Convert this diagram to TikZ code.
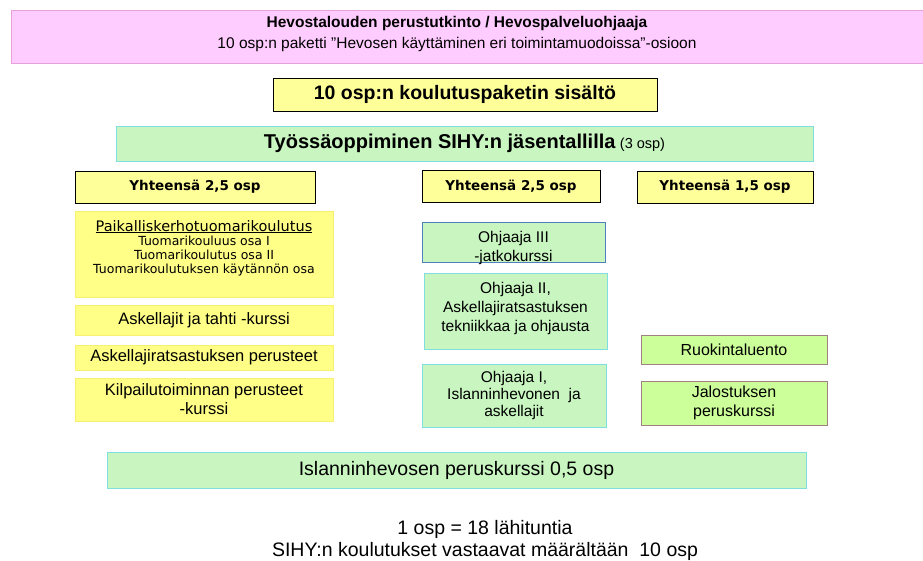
\documentclass[tikz,border=0pt]{standalone}
\usepackage{fontspec}
\setmainfont{Liberation Sans}
\newfontfamily\verd{DejaVu Sans}
\usetikzlibrary{positioning}

\definecolor{pinkfill}{HTML}{FFCCFF}
\definecolor{pinkline}{HTML}{E6A0DC}
\definecolor{yelfill}{HTML}{FFFF99}
\definecolor{paleyel}{HTML}{FFFF88}
\definecolor{paleline}{HTML}{F8F070}
\definecolor{grnfill}{HTML}{C8F5C0}
\definecolor{cyanline}{HTML}{80DDE0}
\definecolor{limefill}{HTML}{CCFF99}
\definecolor{brownline}{HTML}{A08080}
\definecolor{blueline}{HTML}{4F7FBF}

\begin{document}
\begin{tikzpicture}[x=1pt,y=-1pt,inner sep=0pt,
                    semithick]
  \tikzstyle{every node}=[align=center,text=black]
  \tikzstyle{pinkbox}=[draw=pinkline,fill=pinkfill]
  \tikzstyle{headbox}=[draw=black,fill=yelfill]
  \tikzstyle{paleybox}=[draw=paleline,fill=paleyel,font=\fontsize{16.5}{19}\selectfont]
  \tikzstyle{grnbox}=[draw=cyanline,fill=grnfill,font=\fontsize{15.5}{19}\selectfont]
  \tikzstyle{limebox}=[draw=brownline,fill=limefill,font=\fontsize{16}{19}\selectfont]
  \tikzstyle{sumbox}=[headbox,minimum height=32,font=\verd\bfseries\fontsize{13.5}{15}\selectfont]

  \useasboundingbox (0,0) rectangle (923,560);

  % otsikko
  \node[pinkbox,minimum width=922,minimum height=53] (head) at (472,36.5) {};
  \node[font=\fontsize{15.5}{21}\selectfont] (headtxt) at (457,33.5)
       {\textbf{Hevostalouden perustutkinto / Hevospalveluohjaaja}\\
        10 osp:n paketti "Hevosen käyttäminen eri toimintamuodoissa"-osioon};

  \node[headbox,minimum width=384,minimum height=33,font=\bfseries\fontsize{19.5}{21}\selectfont]
       (sisalto) at (465,94.5) {10 osp:n koulutuspaketin sisältö};
  \node[grnbox,minimum width=697,minimum height=35]
       (tyossa) at (464.5,143.5) {\textbf{\fontsize{20}{22}\selectfont Työssäoppiminen SIHY:n jäsentallilla} {\fontsize{14.5}{16}\selectfont(3 osp)}};

  % sarakkeiden otsikot
  \node[sumbox,minimum width=240] (yht1) at (195,187) {Yhteensä 2,5 osp};
  \node[sumbox,minimum width=178] (yht2) at (511,186.5) {Yhteensä 2,5 osp};
  \node[sumbox,minimum width=176] (yht3) at (725,187) {Yhteensä 1,5 osp};

  % vasen sarake
  \node[paleybox,minimum width=258,minimum height=86] (tuom) at (204,254) {};
  \node[below=9pt of tuom.north,font=\verd\fontsize{12.5}{14}\selectfont] (tuomtxt)
       {{\fontsize{14.5}{16}\selectfont\underline{Paikalliskerhotuomarikoulutus}}\\[0pt]
        Tuomarikouluus osa I\\ Tuomarikoulutus osa II\\ Tuomarikoulutuksen käytännön osa};
  \node[paleybox,minimum width=258,minimum height=30] (askel) at (204,320) {Askellajit ja tahti -kurssi};
  \node[paleybox,minimum width=258,minimum height=25] (perus) at (204,357.5) {Askellajiratsastuksen perusteet};
  \node[paleybox,minimum width=258,minimum height=43] (kilpa) at (204,399.5) {Kilpailutoiminnan perusteet\\ -kurssi};

  % keskisarake
  \node[grnbox,draw=blueline,minimum width=183,minimum height=40] (ohj3) at (513.5,242) {};
  \node[font=\fontsize{15.5}{19}\selectfont] (ohj3txt) at ([yshift=-6pt]ohj3.center) {Ohjaaja III\\ -jatkokurssi};
  \node[grnbox,minimum width=183,minimum height=76] (ohj2) at (515.5,311) {Ohjaaja II,\\ Askellajiratsastuksen\\ tekniikkaa ja ohjausta\\[-10pt]};
  \node[grnbox,minimum width=184,minimum height=63,font=\fontsize{15.5}{17}\selectfont] (ohj1) at (514,395.5) {Ohjaaja I,\\ Islanninhevonen\ \ ja\\ askellajit};

  % oikea sarake
  \node[limebox,minimum width=186,minimum height=29] (ruok) at (734,349.5) {Ruokintaluento};
  \node[limebox,minimum width=186,minimum height=44] (jalo) at (734,403) {Jalostuksen\\ peruskurssi};

  \node[grnbox,minimum width=699,minimum height=36,font=\fontsize{19.5}{21}\selectfont]
       (islanti) at (456.5,470) {Islanninhevosen peruskurssi 0,5 osp};

  \node[font=\fontsize{19.5}{21}\selectfont] (osp) at (485,529) {1 osp = 18 lähituntia};
  \node[font=\fontsize{19.5}{21}\selectfont] (sihy) at (485,551) {SIHY:n koulutukset vastaavat määrältään\ \ 10 osp};
\end{tikzpicture}
\end{document}
